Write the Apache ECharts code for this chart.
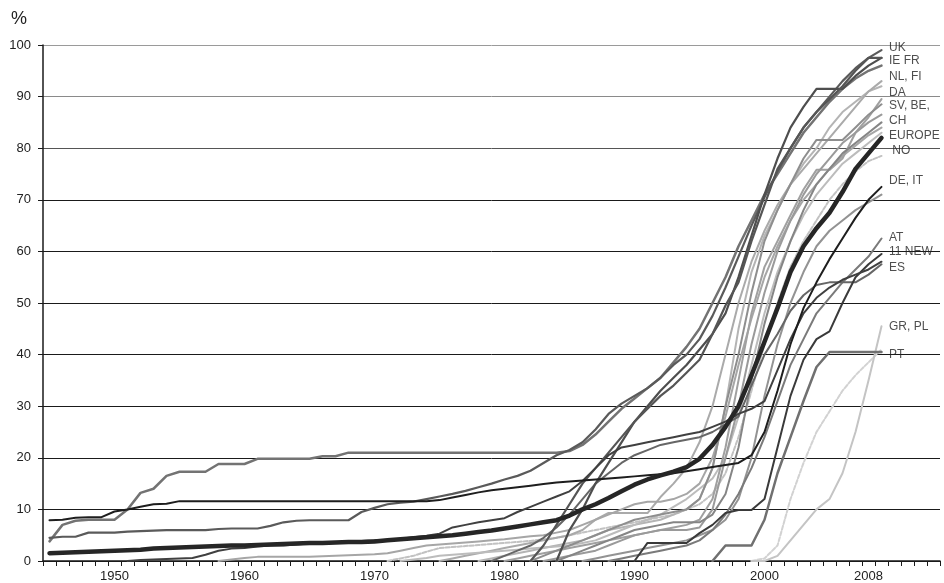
<!DOCTYPE html>
<html>
<head>
<meta charset="utf-8">
<script src="https://cdn.jsdelivr.net/npm/echarts@6/dist/echarts.min.js"></script>
<style>
  html, body { margin: 0; padding: 0; background: #fff; }
  #chart { width: 944px; height: 583px; }
</style>
</head>
<body>
<div id="chart"></div>
<script>
// Share of households / population covered, by country, 1945-2009 (percent)
const firstYear = 1945;
const lastYear = 2013;
const xTickLabels = ['1950', '1960', '1970', '1980', '1990', '2000', '2008'];

// Each series starts at its own first year and runs to 2009
const europe = [1.5,1.6,1.7,1.8,1.9,2.0,2.1,2.2,2.4,2.5,
  2.6,2.7,2.8,2.9,3.0,3.0,3.1,3.2,3.3,3.4,
  3.5,3.5,3.6,3.7,3.7,3.8,4.0,4.2,4.4,4.6,
  4.8,5.0,5.3,5.6,5.9,6.3,6.7,7.1,7.5,7.9,
  8.8,10.0,11.0,12.2,13.5,14.8,15.8,16.6,17.3,18.2,
  19.8,22.5,26.0,30.0,36.0,42.5,49.0,56.0,61.0,64.5,
  67.5,71.5,76.0,79.0,82.0];
const uk = [4.5,4.7,4.7,5.5,5.5,5.5,5.7,5.8,5.9,6.0,
  6.0,6.0,6.0,6.2,6.3,6.3,6.3,6.8,7.5,7.8,
  7.9,7.9,7.9,7.9,9.5,10.3,11.0,11.3,11.5,12.0,
  12.5,13.0,13.6,14.3,15.0,15.8,16.5,17.5,19.0,20.5,
  21.5,23.0,25.5,28.5,30.5,32.0,33.5,35.5,38.0,40.0,
  43.0,47.5,53.0,59.0,65.0,70.5,75.5,80.0,84.0,87.0,
  90.0,93.0,95.5,97.5,99.0];
const de = [7.9,8.0,8.4,8.5,8.5,9.6,10.0,10.5,11.0,11.1,
  11.6,11.6,11.6,11.6,11.6,11.6,11.6,11.6,11.6,11.6,
  11.6,11.6,11.6,11.6,11.6,11.6,11.6,11.6,11.6,11.6,
  11.8,12.3,12.8,13.3,13.7,14.0,14.3,14.6,14.9,15.2,
  15.4,15.6,15.8,16.0,16.2,16.4,16.6,16.8,17.0,17.4,
  17.8,18.2,18.6,19.0,20.5,25.0,33.0,42.0,49.0,54.0,
  58.5,62.5,66.5,70.0,72.5];
const fi = [3.8,7.0,7.8,8.0,8.0,8.0,10.0,13.2,14.0,16.5,
  17.3,17.3,17.3,18.8,18.8,18.8,19.8,19.8,19.8,19.8,
  19.8,20.3,20.3,21.0,21.0,21.0,21.0,21.0,21.0,21.0,
  21.0,21.0,21.0,21.0,21.0,21.0,21.0,21.0,21.0,21.0,
  21.3,22.5,24.5,27.0,29.5,31.5,33.5,35.5,38.5,41.5,
  45.0,50.0,55.0,61.0,66.0,71.0,75.0,79.0,83.0,86.0,
  89.0,91.5,93.5,95.0,96.0];
const ie = [0,6,10,15,19,23,27,30,33,35.5,
  38,41,44,48,55,63,71,78,84,88,
  91.5,91.5,91.5,94,96,97.5];
const fr = [0,3,7,11,15,18,21,24,27,29.5,
  32,34,36.5,39,44,49.5,54,62,69,76,
  80,84,87,89.5,92,95,97.5,97.5];
const it = [0,0.2,0.3,0.4,0.5,0.6,1.2,2.0,2.4,2.5,
  2.8,3.0,3.0,3.2,3.4,3.5,3.6,3.8,3.9,4.0,
  4.1,4.3,4.6,4.9,5.3,6.5,7.0,7.5,7.9,8.3,
  9.5,10.5,11.5,12.5,13.5,15.5,18.0,20.5,22.0,22.5,
  23.0,23.5,24.0,24.5,25.0,26.0,27.0,28.5,29.5,31.0,
  37.0,43.0,48.0,51.0,53.0,54.5,55.5,56.5,58.0];
const es = [0,1,2,3,4.5,6.5,9,12,15,17,
  19,20.5,21.5,22.5,23,23.5,24,25,26.5,28,
  34,40,44,48.5,51.5,53.5,54,54,54,55.5,
  57.5];
const new11 = [0,3.5,3.5,3.5,3.5,5.4,7,9.3,9.9,9.9,
  12,22,32,39,43,44.5,50,55,57.5,59.5];
const at = [0,0.5,1,1.5,2,2.5,3,4,6,9,
  13,18,24,31,38,43,48,51,54,56.5,
  59,62.5];
const pt = [0,3,3,3,8,17,24,31,37.6,40.5,40.5,40.5,40.5,40.5];
const gr = [0,0,1,4,7,10,12,17,25,35,45.5];
const pl = [0,0.5,3,12,19,25,29,33,36,38.5,41];
const no = [0,0.5,1,1.8,2.5,2.7,2.9,3.1,3.3,3.5,
  3.7,3.9,4.2,4.5,5,5.5,6,6.5,7,7.5,
  8,8.5,9,10,11,13,17,24,33,42,
  50,57,62,66,70,73,75.5,77.5,78.5];
const nl = [0,0.5,1,1.5,2,2.5,3,3.5,4,4.5,
  5,6,8,9.3,9.3,9.3,9.3,12.4,15,18,
  23,30,40,50,58,64,69,73,76,79,
  82,85,88,91,93];
const fiOnline = [0,0.5,1,1.5,2,2.5,3,3.5,4,5,
  6,6.5,7,7.5,8,9,10,12,18,30,
  45,56,63,68,73,77,80,84,87,89,
  91,92];
const da = [0,0.5,1,1.5,2,2.5,3,3.5,4,4.5,
  5,5.5,6,6.5,7,8,12,22,35,48,
  57,62,67,72,75.8,75.8,78,83,86,89.5];
const be = [0,0.5,1,1.5,2,3,4,5,5.5,6,
  6,6,6.5,10,20,30,42,52,60,66,
  71,75,78,81,83,85,86.5];
const sv = [0,1,2,3,4,5,6,7,8,8.5,
  9,9.5,10,12,18,30,40,52,62,68,
  73,78,81.6,81.6,81.6,84,86.5,88.5];
const ch = [0,1,2,3,4,5,6,6.5,7,7.5,
  7.5,7.5,9,13,22,35,46,55,62,68,
  73,76,79,81,83,85];
const itOnline = [0,0.5,1,1.5,2,2.5,3,3.5,4,5,
  6,8,12,20,32,42,50,56,61,64,
  66,68,69.5,71];
const lu = [0,0.3,0.6,1,1.2,1.4,1.6,1.8,2,2.2,
  2.4,2.6,2.8,3,3.5,4,5,6,7,8,
  9,10.5,12,14,16,20,28,38,48,56,
  62,67,71,74,77,79,81,83];
const is = [0,0.3,0.6,0.8,0.8,0.8,0.8,0.8,0.9,1.0,
  1.1,1.2,1.3,1.5,2,2.5,3,3.2,3.4,3.6,
  3.8,4,4.2,4.5,4.8,5,5.5,6,7,8,
  9,10,11,11.5,11.5,12,13,15,20,28,
  38,47,55,61,66,70,73,76,78.5,80.5,
  82.5,84];

// Country labels at the right-hand end of the lines
const endLabelTexts = ['UK', 'IE FR', 'NL, FI', 'DA', 'SV, BE,', 'CH', 'EUROPE', ' NO',
  'DE, IT', 'AT', '11 NEW', 'ES', 'GR, PL', 'PT'];
const endLabelLevels = [99.4, 96.9, 93.8, 90.7, 88.2, 85.3, 82.4, 79.5,
  73.8, 62.6, 59.9, 56.8, 45.5, 39.9];

// Series in drawing order (light lines first, Europe on top)
const seriesTable = [
  { key: 'PL', start: 1999, values: pl },
  { key: 'GR', start: 1999, values: gr },
  { key: 'NO', start: 1971, values: no },
  { key: 'FI2', start: 1978, values: fiOnline },
  { key: 'NL', start: 1975, values: nl },
  { key: 'LU', start: 1972, values: lu },
  { key: 'IS', start: 1958, values: is },
  { key: 'DA', start: 1980, values: da },
  { key: 'BE', start: 1983, values: be },
  { key: 'SV', start: 1982, values: sv },
  { key: 'CH', start: 1984, values: ch },
  { key: 'IT2', start: 1986, values: itOnline },
  { key: 'AT', start: 1988, values: at },
  { key: 'PT', start: 1996, values: pt },
  { key: 'ES', start: 1979, values: es },
  { key: 'FI', start: 1945, values: fi },
  { key: 'UK', start: 1945, values: uk },
  { key: 'IE', start: 1984, values: ie },
  { key: 'FR', start: 1982, values: fr },
  { key: '11 NEW', start: 1990, values: new11 },
  { key: 'IT', start: 1951, values: it },
  { key: 'DE', start: 1945, values: de },
  { key: 'EUROPE', start: 1945, values: europe }
];

const lineStyles = {
  'PL': { color: '#d2d2d2', width: 2, type: [4, 2] },
  'GR': { color: '#c4c4c4', width: 2 },
  'NO': { color: '#c2c2c2', width: 2, type: [4, 2] },
  'FI2': { color: '#b4b4b4', width: 2 },
  'NL': { color: '#aaaaaa', width: 2 },
  'LU': { color: '#bcbcbc', width: 2 },
  'IS': { color: '#a6a6a6', width: 2 },
  'DA': { color: '#a0a0a0', width: 2 },
  'BE': { color: '#9a9a9a', width: 2 },
  'SV': { color: '#8e8e8e', width: 2 },
  'CH': { color: '#858585', width: 2 },
  'IT2': { color: '#939393', width: 2 },
  'AT': { color: '#7a7a7a', width: 2 },
  'PT': { color: '#707070', width: 2.5 },
  'ES': { color: '#666666', width: 2 },
  'FI': { color: '#737373', width: 2.5 },
  'UK': { color: '#5a5a5a', width: 2.2 },
  'IE': { color: '#4e4e4e', width: 2.2 },
  'FR': { color: '#555555', width: 2.2 },
  '11 NEW': { color: '#3a3a3a', width: 2 },
  'IT': { color: '#404040', width: 2 },
  'DE': { color: '#1e1e1e', width: 2 },
  'EUROPE': { color: '#262626', width: 4.5 }
};

const years = [];
for (let y = firstYear; y <= lastYear; y++) years.push(String(y));

function placeOnYears(start, values) {
  const out = new Array(years.length).fill(null);
  values.forEach((v, i) => { out[start - firstYear + i] = v; });
  return out;
}

const fontFamily = '"Liberation Sans", Arial, sans-serif';

const lineSeries = seriesTable.map((s, i) => ({
  name: s.key,
  type: 'line',
  data: placeOnYears(s.start, s.values),
  showSymbol: false,
  symbol: 'none',
  smooth: false,
  connectNulls: false,
  z: 2 + i * 0.01,
  lineStyle: Object.assign({ cap: 'round', join: 'round' }, lineStyles[s.key]),
  silent: true
}));

const labelSeries = {
  type: 'scatter',
  symbol: 'circle',
  symbolSize: 1,
  itemStyle: { color: 'rgba(0,0,0,0)' },
  silent: true,
  z: 5,
  data: endLabelTexts.map((t, i) => ({ name: t, value: ['2009', endLabelLevels[i]] })),
  label: {
    show: true,
    position: 'right',
    distance: 7,
    formatter: '{b}',
    color: '#222',
    fontSize: 12,
    fontFamily: fontFamily
  }
};

const chart = echarts.init(document.getElementById('chart'), null, { renderer: 'canvas' });
chart.setOption({
  animation: false,
  backgroundColor: '#ffffff',
  grid: { left: 43, right: 4, top: 45, bottom: 22, containLabel: false },
  graphic: [{
    type: 'text',
    left: 11,
    top: 10,
    style: { text: '%', fontSize: 18, fontFamily: fontFamily, fill: '#222' }
  }],
  xAxis: {
    type: 'category',
    data: years,
    boundaryGap: true,
    axisLine: { show: true, lineStyle: { color: '#1a1a1a', width: 1.5 } },
    axisTick: { show: true, interval: 0, length: 5, lineStyle: { color: '#1a1a1a', width: 1 } },
    axisLabel: {
      interval: (idx, val) => xTickLabels.includes(val),
      color: '#222',
      fontSize: 13,
      fontFamily: fontFamily,
      margin: 9
    },
    splitLine: { show: false }
  },
  yAxis: {
    type: 'value',
    min: 0,
    max: 100,
    interval: 10,
    axisLine: { show: true, lineStyle: { color: '#1a1a1a', width: 1.5 } },
    axisTick: { show: true, length: 5, lineStyle: { color: '#1a1a1a', width: 1 } },
    axisLabel: { color: '#222', fontSize: 13, fontFamily: fontFamily, margin: 12 },
    splitLine: {
      show: true,
      lineStyle: {
        color: ['#1a1a1a', '#1a1a1a', '#1a1a1a', '#1a1a1a', '#1a1a1a', '#1a1a1a',
                '#1a1a1a', '#1a1a1a', '#555555', '#8a8a8a', '#9a9a9a'],
        width: 1
      }
    }
  },
  series: lineSeries.concat([labelSeries])
});
</script>
</body>
</html>
